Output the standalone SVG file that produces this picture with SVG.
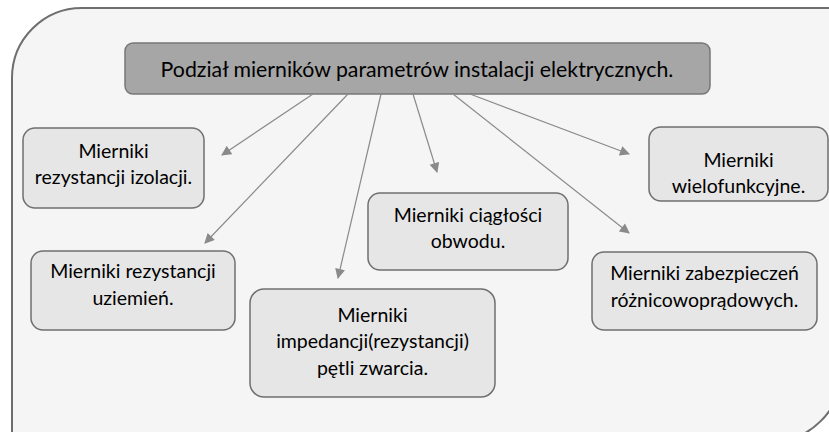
<svg xmlns="http://www.w3.org/2000/svg" width="829" height="432" viewBox="0 0 829 432">
<defs>
<style>
.frame{fill:#f5f5f5;stroke:#6e6e6e;stroke-width:2}
.node rect{fill:#e6e6e6;stroke:#6f6f6f;stroke-width:1.5}
.title rect{fill:#a6a6a6;stroke:#777;stroke-width:1.5}
text{font-family:"Lato","Liberation Sans",sans-serif;fill:#000;text-anchor:middle}
.t{font-size:19.5px}
.h{font-size:21.3px}
.conn line{stroke:#8a8a8a;stroke-width:1.2;marker-end:url(#ah)}
</style>
<marker id="ah" viewBox="0 0 10 10" refX="9" refY="5" markerWidth="11" markerHeight="10" markerUnits="userSpaceOnUse" orient="auto">
<path d="M0,0 L10,5 L0,10 Z" fill="#8a8a8a"/>
</marker>
</defs>
<rect width="829" height="432" fill="#ffffff"/>
<path class="frame" d="M12,440 L12,78 A70,70 0 0 1 82,8 L842,8 L842,370 A72,72 0 0 1 770,442 Z"/>
<g id="title" class="title">
<rect x="125" y="43" width="585" height="51" rx="8"/>
<text class="h" x="417" y="77">Podział mierników parametrów instalacji elektrycznych.</text>
</g>
<g id="n1" class="node">
<rect x="23" y="128" width="181" height="80" rx="12"/>
<text class="t" x="113.5" y="158">Mierniki</text>
<text class="t" x="113.5" y="184">rezystancji izolacji.</text>
</g>
<g id="n2" class="node">
<rect x="31" y="251" width="204" height="79" rx="12"/>
<text class="t" x="133" y="278">Mierniki rezystancji</text>
<text class="t" x="133" y="305">uziemień.</text>
</g>
<g id="n3" class="node">
<rect x="250" y="289" width="245" height="108" rx="14"/>
<text class="t" x="372.5" y="322">Mierniki</text>
<text class="t" x="372.5" y="348">impedancji(rezystancji)</text>
<text class="t" x="372.5" y="375">pętli zwarcia.</text>
</g>
<g id="n4" class="node">
<rect x="368" y="193" width="200" height="77" rx="12"/>
<text class="t" x="468" y="222">Mierniki ciągłości</text>
<text class="t" x="468" y="248">obwodu.</text>
</g>
<g id="n5" class="node">
<rect x="592" y="252" width="225" height="78" rx="12"/>
<text class="t" x="704.5" y="280">Mierniki zabezpieczeń</text>
<text class="t" x="704.5" y="307">różnicowoprądowych.</text>
</g>
<g id="n6" class="node">
<rect x="649" y="127" width="179" height="74" rx="12"/>
<text class="t" x="738.5" y="167">Mierniki</text>
<text class="t" x="738.5" y="193">wielofunkcyjne.</text>
</g>
<g id="connectors" class="conn">
<line x1="313" y1="94" x2="222" y2="155"/>
<line x1="348" y1="94" x2="205" y2="243"/>
<line x1="381" y1="94" x2="338" y2="278"/>
<line x1="413" y1="94" x2="437" y2="172"/>
<line x1="453" y1="94" x2="629" y2="233"/>
<line x1="470" y1="94" x2="629" y2="154"/>
</g>
</svg>
